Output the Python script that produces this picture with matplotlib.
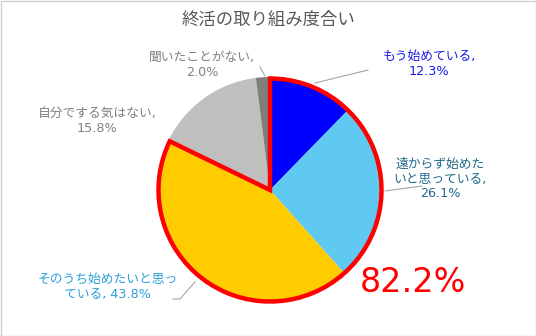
import matplotlib.pyplot as plt
from matplotlib.patches import Wedge, Rectangle

# DejaVu for latin (Verdana-like, close to Meiryo), Noto CJK for Japanese
plt.rcParams['font.family'] = ['DejaVu Sans', 'Noto Sans CJK JP']

labels = ["もう始めている,\n12.3%", "遠からず始めた\nいと思っている,\n26.1%",
          "そのうち始めたいと思っ\nている, 43.8%", "自分でする気はない,\n15.8%",
          "聞いたことがない,\n2.0%"]
values = [12.3, 26.1, 43.8, 15.8, 2.0]
colors = ["#0000FF", "#5FC9F1", "#FFCC00", "#BFBFBF", "#7F7F7F"]
text_colors = ["#1A1AE6", "#1F6A8A", "#2AA0D8", "#808080", "#808080"]
total_started = "82.2%"

W, H = 536, 336
fig = plt.figure(figsize=(W / 100, H / 100), dpi=100)
ax = fig.add_axes([0, 0, 1, 1])

cx, cy, r = 270, H - 190, 113

ax.pie(values, colors=colors, startangle=90, counterclock=False,
       center=(cx, cy), radius=r, frame=True,
       wedgeprops=dict(linewidth=0))
ax.set_xlim(0, W)
ax.set_ylim(0, H)
ax.set_aspect('equal')
ax.axis('off')

# red outline around the first three slices
share = sum(values[:3]) / sum(values)
ax.add_patch(Wedge((cx, cy), r - 1.5, 90 - 360 * share, 90, fill=False,
                   edgecolor="#FF0000", linewidth=3.2, joinstyle='miter'))

# labels (pixel positions, y from top)
pos = [(429, 64), (440, 179), (108, 287), (97, 121), (202, 65)]
for (x, y), lab, c in zip(pos, labels, text_colors):
    ax.text(x, H - y, lab, color=c, fontsize=9.2, ha='center', va='center',
            linespacing=1.15)

# leader lines
lines = [[(315, 83), (368, 70)],
         [(385, 191), (422, 186)],
         [(195, 282), (180, 299), (173, 299)],
         [(260, 67), (265, 76)]]
for pts in lines:
    xs = [p[0] for p in pts]
    ys = [H - p[1] for p in pts]
    ax.plot(xs, ys, color="#A6A6A6", linewidth=0.8)

ax.text(413, H - 283, total_started, color="#FF0000", fontsize=24,
        ha='center', va='center')

fig.text(0.5, 1 - 20 / H, "終活の取り組み度合い", color="#595959",
         fontsize=12.5, ha='center', va='center')

ax.add_patch(Rectangle((0.5, 0.5), W - 1, H - 1, fill=False,
                       edgecolor="#D0D0D0", linewidth=1))

fig.savefig("out.png", dpi=100)
